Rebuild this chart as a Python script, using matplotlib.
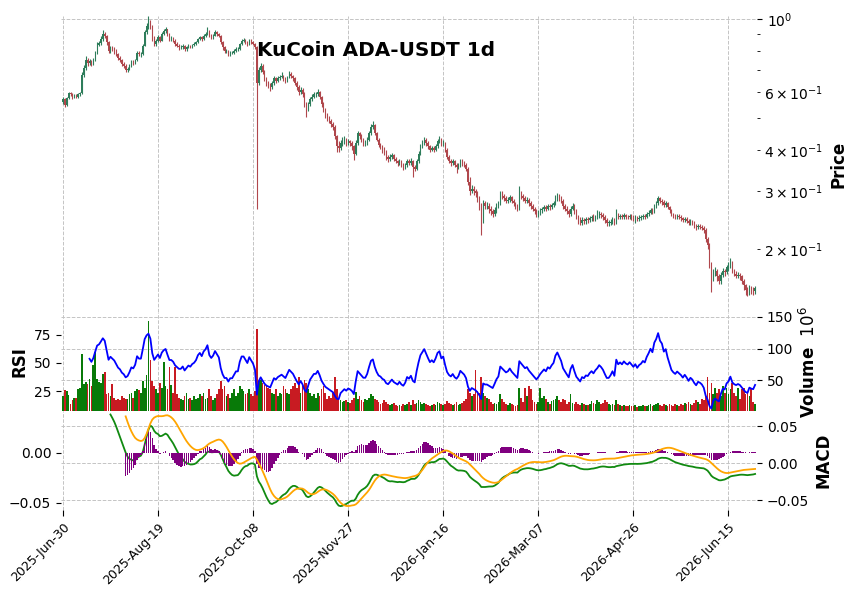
import numpy as np
import pandas as pd
import matplotlib
matplotlib.use("Agg")
import matplotlib.pyplot as plt
from matplotlib.ticker import MultipleLocator, FixedLocator

# ---------------- data ----------------
start_date = "2025-06-30"
first_open = 0.560

close = [
    0.570, 0.548, 0.575, 0.595, 0.590, 0.578, 0.585, 0.580, 0.590, 0.594,
    0.676, 0.710, 0.750, 0.735, 0.745, 0.730, 0.750, 0.790, 0.835, 0.845,
    0.870, 0.900, 0.890, 0.850, 0.800, 0.820, 0.810, 0.800, 0.780, 0.760,
    0.750, 0.730, 0.720, 0.700, 0.705, 0.720, 0.740, 0.735, 0.750, 0.790,
    0.780, 0.780, 0.830, 0.910, 0.950, 0.970, 0.950, 0.880, 0.840, 0.860,
    0.880, 0.860, 0.900, 0.920, 0.930, 0.900, 0.870, 0.870, 0.860, 0.840,
    0.830, 0.820, 0.820, 0.830, 0.810, 0.820, 0.830, 0.825, 0.835, 0.840,
    0.850, 0.870, 0.880, 0.870, 0.890, 0.900, 0.920, 0.890, 0.880, 0.890,
    0.910, 0.900, 0.890, 0.850, 0.820, 0.800, 0.800, 0.780, 0.790, 0.790,
    0.800, 0.810, 0.810, 0.840, 0.860, 0.860, 0.850, 0.840, 0.860, 0.850,
    0.840, 0.820, 0.640, 0.700, 0.720, 0.690, 0.660, 0.640, 0.630, 0.620,
    0.640, 0.660, 0.650, 0.660, 0.665, 0.670, 0.660, 0.650, 0.665, 0.680,
    0.670, 0.660, 0.640, 0.620, 0.600, 0.610, 0.590, 0.550, 0.530, 0.550,
    0.570, 0.580, 0.590, 0.590, 0.600, 0.580, 0.550, 0.530, 0.510, 0.500,
    0.490, 0.480, 0.470, 0.440, 0.410, 0.405, 0.420, 0.425, 0.430, 0.420,
    0.425, 0.420, 0.410, 0.390, 0.420, 0.450, 0.440, 0.430, 0.420, 0.420,
    0.430, 0.450, 0.470, 0.475, 0.450, 0.430, 0.415, 0.410, 0.400, 0.395,
    0.380, 0.375, 0.380, 0.385, 0.375, 0.370, 0.365, 0.370, 0.360, 0.355,
    0.360, 0.370, 0.365, 0.370, 0.355, 0.350, 0.370, 0.390, 0.410, 0.420,
    0.430, 0.420, 0.410, 0.400, 0.405, 0.400, 0.410, 0.425, 0.430, 0.415,
    0.420, 0.400, 0.380, 0.370, 0.365, 0.370, 0.360, 0.355, 0.360, 0.370,
    0.365, 0.360, 0.350, 0.320, 0.300, 0.305, 0.300, 0.295, 0.285, 0.270,
    0.245, 0.275, 0.270, 0.270, 0.265, 0.260, 0.255, 0.262, 0.270, 0.275,
    0.295, 0.290, 0.285, 0.280, 0.282, 0.287, 0.280, 0.275, 0.270, 0.265,
    0.295, 0.290, 0.285, 0.280, 0.282, 0.275, 0.270, 0.265, 0.260, 0.255,
    0.258, 0.262, 0.265, 0.268, 0.265, 0.270, 0.268, 0.272, 0.275, 0.285,
    0.290, 0.285, 0.280, 0.270, 0.265, 0.260, 0.255, 0.265, 0.270, 0.260,
    0.250, 0.245, 0.240, 0.245, 0.243, 0.246, 0.245, 0.248, 0.250, 0.247,
    0.250, 0.252, 0.255, 0.253, 0.250, 0.245, 0.240, 0.240, 0.242, 0.245,
    0.240, 0.255, 0.250, 0.252, 0.250, 0.253, 0.251, 0.250, 0.252, 0.250,
    0.248, 0.250, 0.247, 0.249, 0.250, 0.252, 0.251, 0.255, 0.258, 0.262,
    0.260, 0.270, 0.275, 0.285, 0.280, 0.278, 0.272, 0.275, 0.268, 0.262,
    0.255, 0.252, 0.250, 0.252, 0.250, 0.248, 0.245, 0.247, 0.244, 0.240,
    0.242, 0.240, 0.236, 0.233, 0.235, 0.234, 0.232, 0.228, 0.215, 0.205,
    0.180, 0.163, 0.170, 0.172, 0.165, 0.160, 0.167, 0.172, 0.170, 0.176,
    0.178, 0.183, 0.172, 0.168, 0.166, 0.167, 0.165, 0.160, 0.155, 0.150,
    0.148, 0.152, 0.150, 0.149, 0.152,
]

high = [
    .578, .574, .580, .602, .600, .594, .590, .590, .596, .602,
    .690, .725, .770, .762, .755, .752, .760, .800, .850, .860,
    .885, .925, .915, .895, .858, .830, .830, .820, .808, .790,
    .770, .758, .740, .728, .715, .728, .748, .750, .758, .800,
    .800, .792, .840, .925, .970, 1.020, .990, .960, .890, .870,
    .895, .890, .910, .935, .945, .935, .905, .885, .880, .868,
    .850, .838, .832, .840, .835, .828, .838, .836, .842, .850,
    .860, .878, .890, .888, .898, .912, .945, .928, .898, .900,
    .925, .918, .905, .895, .858, .828, .812, .806, .798, .800,
    .808, .820, .822, .848, .872, .875, .868, .858, .870, .868,
    .858, .848, .830, .715, .735, .728, .700, .668, .650, .640,
    .648, .670, .668, .670, .675, .690, .678, .668, .672, .695,
    .688, .678, .665, .648, .628, .620, .615, .598, .558, .560,
    .578, .590, .598, .602, .612, .605, .585, .558, .535, .518,
    .508, .498, .488, .475, .445, .425, .428, .438, .440, .435,
    .432, .430, .425, .415, .428, .458, .455, .446, .435, .430,
    .438, .458, .478, .490, .480, .455, .435, .420, .415, .408,
    .400, .386, .388, .392, .390, .380, .374, .376, .374, .365,
    .366, .376, .375, .377, .374, .360, .375, .396, .418, .428,
    .438, .435, .425, .415, .412, .410, .416, .432, .440, .435,
    .428, .424, .405, .386, .375, .376, .374, .365, .366, .376,
    .375, .370, .365, .355, .330, .312, .310, .305, .300, .290,
    .275, .282, .280, .278, .275, .270, .265, .268, .275, .280,
    .300, .300, .294, .290, .288, .292, .290, .284, .278, .274,
    .310, .300, .294, .290, .288, .286, .280, .274, .268, .264,
    .263, .266, .269, .272, .272, .274, .274, .276, .280, .292,
    .296, .294, .290, .284, .274, .270, .264, .270, .276, .274,
    .264, .254, .250, .250, .249, .250, .250, .252, .254, .255,
    .254, .262, .260, .259, .257, .254, .248, .245, .247, .250,
    .248, .265, .258, .256, .255, .257, .256, .254, .256, .255,
    .253, .254, .252, .253, .254, .256, .256, .259, .262, .266,
    .266, .274, .280, .290, .288, .284, .282, .279, .278, .271,
    .265, .258, .256, .256, .255, .253, .251, .251, .250, .247,
    .246, .245, .243, .239, .238, .238, .237, .235, .231, .218,
    .208, .182, .174, .176, .174, .168, .170, .175, .174, .179,
    .182, .188, .184, .174, .171, .170, .169, .167, .162, .157,
    .153, .155, .154, .153, .154,
]

low = [
    .552, .540, .545, .570, .582, .572, .574, .575, .577, .585,
    .590, .665, .700, .720, .725, .718, .725, .745, .785, .825,
    .835, .860, .875, .835, .790, .790, .800, .785, .770, .750,
    .740, .720, .710, .690, .692, .698, .715, .725, .728, .745,
    .770, .765, .775, .825, .900, .935, .930, .860, .825, .830,
    .850, .850, .855, .895, .905, .890, .860, .860, .850, .830,
    .820, .805, .810, .812, .800, .800, .815, .815, .818, .828,
    .832, .845, .862, .860, .865, .880, .895, .880, .868, .872,
    .885, .890, .880, .840, .805, .790, .788, .770, .772, .780,
    .783, .795, .800, .805, .835, .850, .842, .830, .835, .842,
    .832, .810, .265, .630, .690, .680, .650, .625, .618, .605,
    .612, .632, .640, .645, .652, .660, .650, .640, .645, .660,
    .660, .650, .630, .610, .588, .592, .580, .540, .505, .525,
    .545, .562, .575, .578, .585, .570, .540, .522, .500, .490,
    .482, .470, .460, .432, .395, .395, .400, .412, .418, .412,
    .414, .410, .400, .372, .385, .415, .432, .422, .412, .412,
    .415, .425, .445, .462, .445, .425, .408, .402, .392, .385,
    .372, .368, .370, .375, .370, .364, .358, .360, .354, .348,
    .350, .356, .360, .360, .332, .345, .348, .366, .386, .405,
    .415, .412, .402, .395, .396, .393, .396, .405, .420, .410,
    .410, .395, .375, .364, .358, .360, .355, .340, .350, .355,
    .358, .354, .345, .312, .292, .295, .292, .288, .278, .262,
    .220, .240, .264, .264, .258, .254, .250, .252, .258, .266,
    .272, .284, .280, .275, .276, .278, .275, .270, .265, .260,
    .262, .284, .280, .275, .276, .270, .265, .260, .255, .250,
    .251, .254, .258, .261, .260, .262, .263, .264, .268, .272,
    .280, .280, .275, .265, .260, .255, .250, .252, .262, .256,
    .246, .238, .236, .237, .238, .239, .240, .241, .243, .243,
    .244, .246, .248, .248, .245, .240, .235, .235, .236, .238,
    .236, .238, .246, .247, .246, .247, .247, .246, .247, .245,
    .243, .240, .243, .244, .245, .247, .247, .249, .252, .255,
    .256, .258, .266, .272, .276, .272, .268, .268, .264, .258,
    .252, .248, .246, .247, .246, .244, .241, .242, .240, .236,
    .237, .236, .232, .229, .230, .230, .228, .224, .210, .200,
    .175, .148, .160, .165, .160, .156, .157, .164, .166, .168,
    .172, .175, .169, .165, .163, .163, .161, .156, .150, .145,
    .144, .145, .146, .145, .146,
]

volume_m = [
    24, 34, 33, 26, 12, 19, 22, 22, 36, 38,
    91, 44, 47, 44, 52, 40, 74, 95, 52, 47,
    45, 60, 62, 28, 30, 25, 43, 22, 18, 20,
    18, 25, 22, 20, 20, 28, 30, 22, 32, 35,
    34, 30, 48, 38, 58, 144, 82, 48, 40, 35,
    30, 45, 38, 79, 40, 35, 70, 42, 30, 70,
    28, 22, 20, 18, 25, 30, 20, 22, 18, 25,
    20, 22, 28, 25, 30, 20, 22, 35, 25, 18,
    22, 28, 35, 48, 35, 40, 25, 28, 22, 30,
    35, 25, 30, 40, 35, 32, 28, 30, 35, 28,
    25, 32, 131, 48, 50, 45, 42, 40, 38, 35,
    30, 28, 35, 25, 30, 28, 40, 35, 30, 28,
    35, 40, 45, 38, 55, 30, 40, 50, 45, 35,
    30, 25, 28, 22, 30, 25, 35, 40, 30, 20,
    25, 22, 30, 55, 35, 20, 18, 15, 16, 18,
    15, 14, 18, 22, 31, 20, 25, 18, 15, 20,
    18, 22, 28, 25, 20, 18, 15, 12, 14, 18,
    15, 12, 10, 12, 14, 10, 8, 10, 9, 12,
    10, 12, 15, 10, 18, 12, 14, 18, 15, 12,
    14, 12, 10, 8, 10, 12, 10, 15, 14, 12,
    10, 12, 16, 14, 12, 10, 12, 15, 10, 12,
    14, 16, 20, 36, 30, 25, 28, 66, 32, 30,
    55, 30, 25, 22, 20, 15, 12, 14, 12, 15,
    28, 20, 15, 12, 10, 14, 12, 10, 8, 10,
    37, 22, 15, 38, 25, 40, 35, 18, 15, 12,
    15, 38, 22, 25, 20, 15, 12, 16, 18, 20,
    25, 18, 15, 20, 18, 12, 15, 28, 14, 12,
    15, 12, 10, 14, 12, 10, 10, 12, 16, 14,
    12, 18, 15, 12, 14, 18, 15, 12, 10, 12,
    10, 18, 12, 10, 8, 10, 8, 9, 10, 8,
    8, 10, 7, 8, 9, 10, 8, 8, 10, 12,
    8, 10, 12, 14, 10, 9, 12, 10, 8, 12,
    10, 8, 12, 10, 9, 12, 10, 14, 12, 15,
    12, 10, 14, 18, 15, 12, 20, 18, 25, 55,
    30, 45, 28, 38, 30, 36, 25, 40, 30, 38,
    28, 36, 45, 30, 25, 38, 20, 35, 38, 28,
    30, 25, 35, 15, 12,
]

tick_every = 50
title = "KuCoin ADA-USDT 1d"

# ---------------- derived series ----------------
n = len(close)
dates = pd.date_range(start_date, periods=n, freq="D")
c = np.array(close)
o = np.r_[first_open, c[:-1]]
h = np.array(high)
l = np.array(low)
v = np.array(volume_m, dtype=float)
x = np.arange(n)
up = c >= o

cs = pd.Series(c)
delta = cs.diff()
gain = delta.clip(lower=0)
loss = -delta.clip(upper=0)
avg_g = gain.ewm(alpha=1 / 14, adjust=False, min_periods=14).mean()
avg_l = loss.ewm(alpha=1 / 14, adjust=False, min_periods=14).mean()
rsi = 100 - 100 / (1 + avg_g / avg_l)

ema_fast = cs.ewm(span=12, adjust=False, min_periods=12).mean()
ema_slow = cs.ewm(span=26, adjust=False, min_periods=26).mean()
macd = ema_fast - ema_slow
signal = macd.ewm(span=9, adjust=False, min_periods=9).mean()
hist = macd - signal

# ---------------- figure ----------------
W_PX, H_PX = 856, 603
fig = plt.figure(figsize=(W_PX / 100, H_PX / 100), dpi=100)

left_px, right_px = 61, 757
top_px, b1, b2, b3 = 16, 312.4, 411.2, 510


def rect(t, b):
    return [left_px / W_PX, 1 - b / H_PX, (right_px - left_px) / W_PX, (b - t) / H_PX]


ax_p = fig.add_axes(rect(top_px, b1))
ax_v = fig.add_axes(rect(b1, b2), sharex=ax_p)
ax_m = fig.add_axes(rect(b2, b3), sharex=ax_p)
ax_r = ax_v.twinx()
ax_s = ax_m.twinx()

up_col, dn_col = "#2e7d5b", "#b0474c"
vup_col, vdn_col = "#087a08", "#c81b22"

# candles
cols = np.where(up, up_col, dn_col)
ax_p.vlines(x, l, h, colors=cols, linewidth=0.8, zorder=2)
body_lo = np.minimum(o, c)
body_hi = np.maximum(o, c)
body_h = np.maximum(body_hi - body_lo, body_lo * 0.004)
ax_p.bar(x, body_h, bottom=body_lo, width=0.65, color=cols, linewidth=0, zorder=3)
ax_p.set_yscale("log")
ax_p.set_ylim(0.1283, 1.0212)

# volume + RSI
ax_v.bar(x, v, width=0.9, color=np.where(up, vup_col, vdn_col), linewidth=0, zorder=2)
ax_v.set_ylim(0.5, 157.3)
ax_v.yaxis.set_major_locator(MultipleLocator(50))
ax_r.plot(x, rsi, color="#0000ff", linewidth=1.3)
ax_r.set_ylim(7.7, 94.4)
ax_r.yaxis.set_major_locator(FixedLocator([25, 50, 75]))

# MACD
ax_m.plot(x, macd, color="#118a11", linewidth=1.3)
ax_m.set_ylim(-0.0635, 0.070)
ax_m.yaxis.set_major_locator(MultipleLocator(0.05))
ax_s.bar(x, hist, width=0.8, color="#800080", linewidth=0)
ax_s.plot(x, signal, color="#ffa500", linewidth=1.3)
ax_s.set_ylim(-0.057, 0.0418)
ax_s.yaxis.set_major_locator(MultipleLocator(0.05))

# axis sides
ax_p.yaxis.tick_right()
ax_p.yaxis.set_label_position("right")
ax_v.yaxis.tick_right()
ax_v.yaxis.set_label_position("right")
ax_r.yaxis.tick_left()
ax_r.yaxis.set_label_position("left")
ax_m.yaxis.tick_right()
ax_m.yaxis.set_label_position("right")
ax_s.yaxis.tick_left()
ax_s.yaxis.set_label_position("left")

# x axis
ticks = list(range(0, n, tick_every))
ax_m.set_xlim(-1, n)
ax_m.xaxis.set_major_locator(FixedLocator(ticks))
ax_m.set_xticklabels([dates[i].strftime("%Y-%b-%d") for i in ticks],
                     rotation=45, ha="right", va="top", rotation_mode="anchor")
for a in (ax_p, ax_v, ax_r, ax_s):
    a.tick_params(axis="x", length=0, labelbottom=False)
ax_m.tick_params(axis="x", length=4, labelsize=9)

grid_kw = dict(color="#c4c4c4", linestyle="--", linewidth=0.7)
for a in (ax_p, ax_v, ax_m):
    a.grid(True, which="major", **grid_kw)
    a.set_axisbelow(True)
for a in (ax_p, ax_v, ax_m, ax_r, ax_s):
    for sp in a.spines.values():
        sp.set_visible(False)
    a.tick_params(axis="y", labelsize=10, length=3.5)
ax_p.tick_params(axis="y", which="minor", length=2)

lab_kw = dict(fontsize=12, fontweight="bold")
ax_p.set_ylabel("Price", **lab_kw)
ax_v.set_ylabel("Volume  $10^{6}$", **lab_kw)
ax_r.set_ylabel("RSI", **lab_kw)
ax_m.set_ylabel("MACD", **lab_kw)

fig.text(376 / W_PX, 1 - 51 / H_PX, title, fontsize=14.4, fontweight="bold",
         ha="center", va="center")

fig.savefig("out.png", dpi=100)
